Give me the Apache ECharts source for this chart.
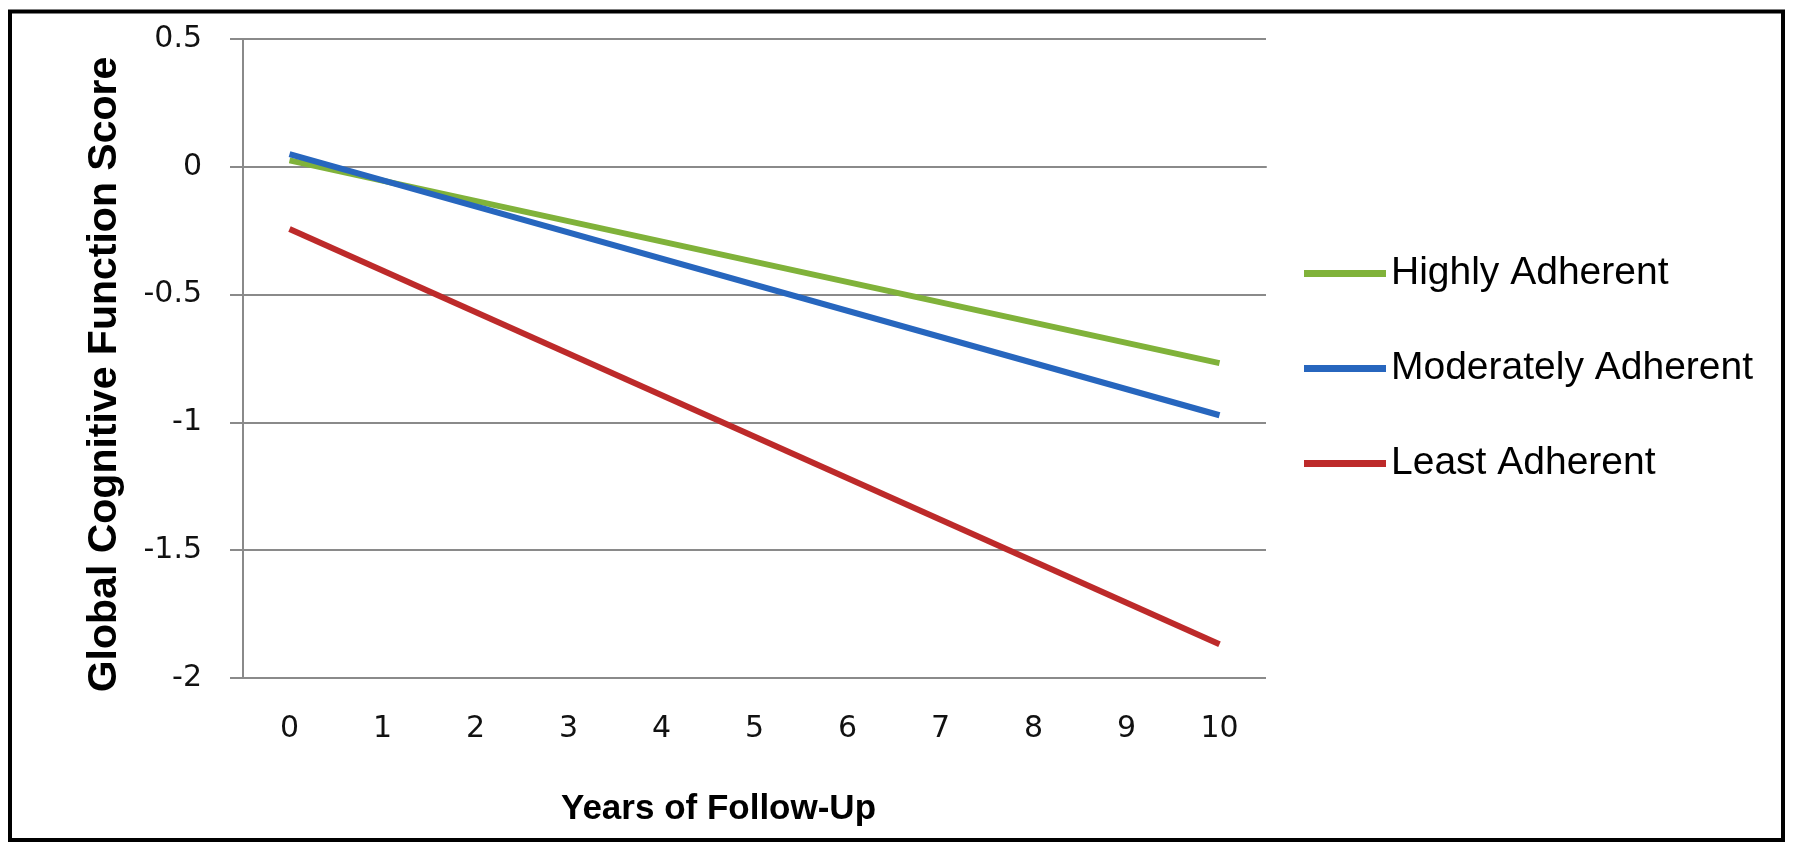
<!DOCTYPE html>
<html>
<head>
<meta charset="utf-8">
<script src="https://cdn.jsdelivr.net/npm/echarts@6/dist/echarts.min.js"></script>
<style>
html,body{margin:0;padding:0;background:#fff;}
#chart{width:1800px;height:852px;}
</style>
</head>
<body>
<div id="chart"></div>
<script>
// Data
var years = ['0','1','2','3','4','5','6','7','8','9','10'];
var seriesNames = ['Highly Adherent', 'Moderately Adherent', 'Least Adherent'];
var highly = [0.025, null, null, null, null, null, null, null, null, null, -0.768];
var moderately = [0.05, null, null, null, null, null, null, null, null, null, -0.972];
var least = [-0.243, null, null, null, null, null, null, null, null, null, -1.868];
var yMin = -2, yMax = 0.5, yStep = 0.5;
var xTitle = 'Years of Follow-Up';
var yTitle = 'Global Cognitive Function Score';

var colors = ['#80B23A', '#2766BE', '#BD2A2A'];
var gridGray = '#8a8a8a';

var chart = echarts.init(document.getElementById('chart'), null, {renderer: 'canvas'});
var mkSeries = function (name, data, color) {
  return {
    name: name, type: 'line', data: data, connectNulls: true,
    showSymbol: false, symbol: 'none', smooth: false,
    lineStyle: {color: color, width: 6},
    itemStyle: {color: color},
    emphasis: {disabled: true}
  };
};
chart.setOption({
  animation: false,
  backgroundColor: '#fff',
  grid: {left: 243, right: 534, top: 39, bottom: 174, containLabel: false},
  legend: {
    orient: 'vertical', left: 1299, top: 249, itemGap: 56,
    itemWidth: 82, itemHeight: 7, icon: 'rect',
    data: seriesNames,
    textStyle: {fontSize: 39, fontFamily: 'Liberation Sans', color: '#000'}
  },
  xAxis: {
    type: 'category', data: years, boundaryGap: true,
    axisLine: {show: true, lineStyle: {color: gridGray, width: 2}},
    axisTick: {show: false},
    axisLabel: {fontSize: 30, fontFamily: 'DejaVu Sans', color: '#111', margin: 36},
    splitLine: {show: false},
    name: xTitle, nameLocation: 'middle', nameGap: 114,
    nameTextStyle: {fontSize: 35, fontWeight: 'bold', fontFamily: 'Liberation Sans', color: '#000', padding: [0, 72, 0, 0]}
  },
  yAxis: {
    type: 'value', min: yMin, max: yMax, interval: yStep,
    axisLine: {show: true, lineStyle: {color: gridGray, width: 2}},
    axisTick: {show: true, length: 13, lineStyle: {color: gridGray, width: 2}},
    axisLabel: {fontSize: 30, fontFamily: 'DejaVu Sans', color: '#111', margin: 41},
    splitLine: {show: true, lineStyle: {color: gridGray, width: 2}},
    name: yTitle, nameLocation: 'middle', nameGap: 118, nameRotate: 90,
    nameTextStyle: {fontSize: 41, fontWeight: 'bold', fontFamily: 'Liberation Sans', color: '#000', padding: [0, 32, 0, 0]}
  },
  graphic: [{
    type: 'rect', silent: true, z: 100,
    shape: {x: 10, y: 11.5, width: 1773, height: 828.5},
    style: {fill: 'none', stroke: '#000', lineWidth: 4}
  }],
  series: [
    mkSeries(seriesNames[0], highly, colors[0]),
    mkSeries(seriesNames[1], moderately, colors[1]),
    mkSeries(seriesNames[2], least, colors[2])
  ]
});
</script>
</body>
</html>
